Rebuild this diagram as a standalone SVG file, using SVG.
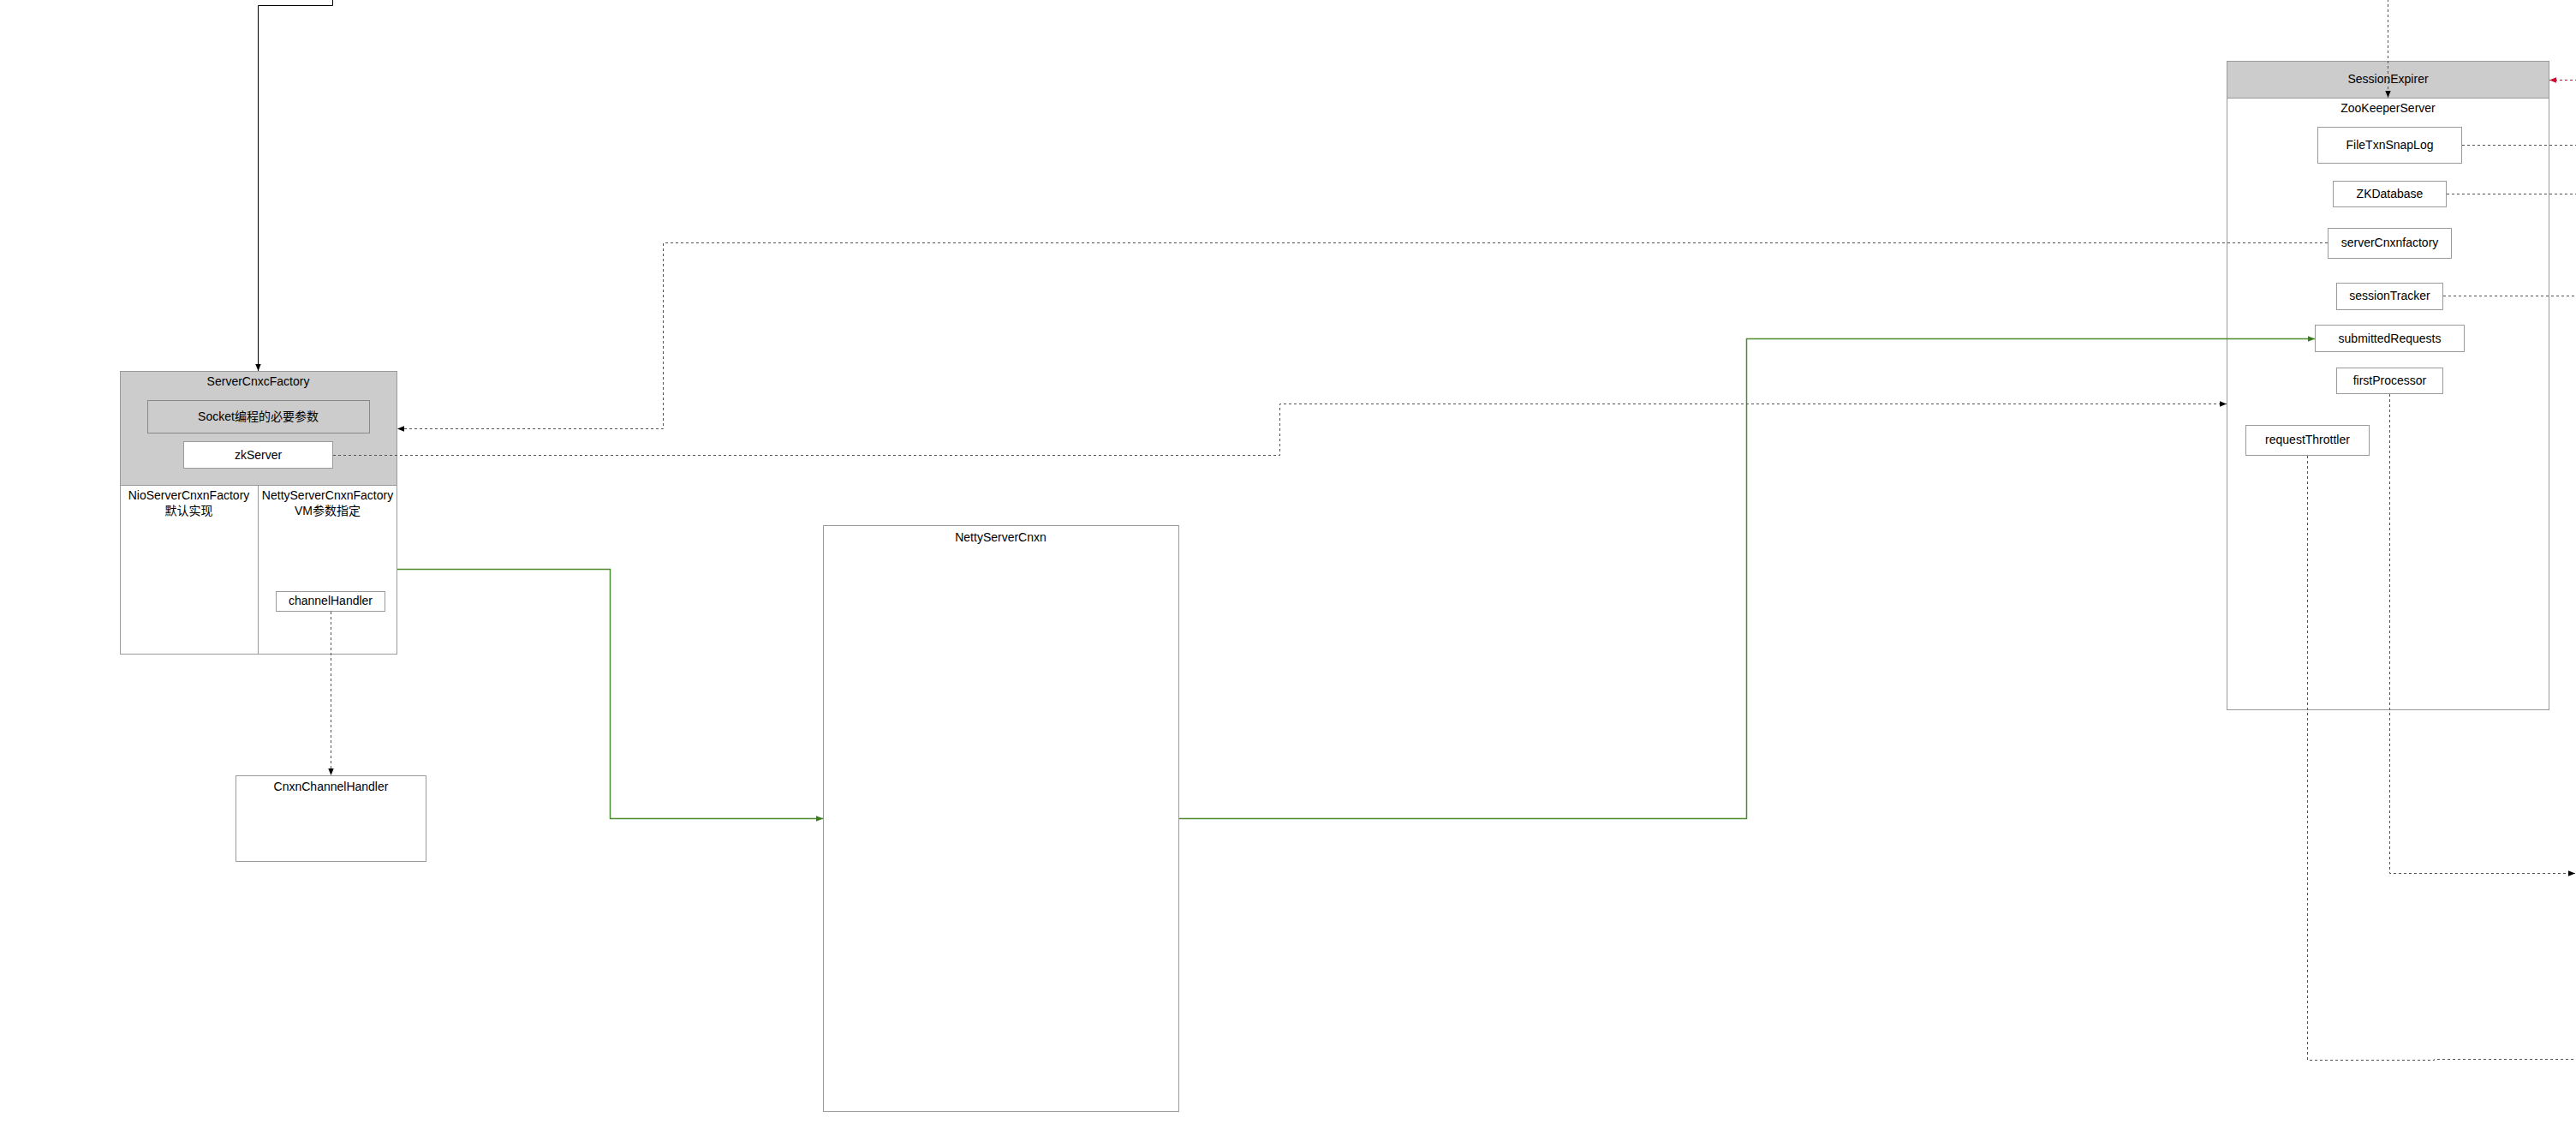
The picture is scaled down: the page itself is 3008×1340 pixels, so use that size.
<svg xmlns="http://www.w3.org/2000/svg" width="3008" height="1340" viewBox="0 0 3008 1340">
<defs>
<style>
text{font-family:"Liberation Sans","Noto Sans CJK SC",sans-serif;font-size:14px;fill:#000;text-anchor:middle}
.box{fill:#fff;stroke:#9a9a9a;stroke-width:1}
.hdr{fill:#cccccc;stroke:#9a9a9a;stroke-width:1}
.inner{fill:#cccccc;stroke:#888;stroke-width:1}
.solid{fill:none;stroke:#000;stroke-width:1}
.dash{fill:none;stroke:#555;stroke-width:1;stroke-dasharray:3 3}
.green{fill:none;stroke:#4f8a2f;stroke-width:1.5}
.red{fill:none;stroke:#c8102e;stroke-width:1;stroke-dasharray:3 3}
</style>
<marker id="ab" viewBox="0 0 10 10" refX="10" refY="5" markerWidth="8" markerHeight="8" markerUnits="userSpaceOnUse" orient="auto"><path d="M0,1 L10,5 L0,9 Z" fill="#000"/></marker>
<marker id="ag" viewBox="0 0 10 10" refX="10" refY="5" markerWidth="8" markerHeight="8" markerUnits="userSpaceOnUse" orient="auto"><path d="M0,1 L10,5 L0,9 Z" fill="#3a7a1a"/></marker>
<marker id="ar" viewBox="0 0 10 10" refX="10" refY="5" markerWidth="8" markerHeight="8" markerUnits="userSpaceOnUse" orient="auto"><path d="M0,1 L10,5 L0,9 Z" fill="#c8102e"/></marker>
</defs>
<rect width="3008" height="1340" fill="#fff"/>

<g id="serverCnxcFactory">
<rect class="box" x="140.5" y="433.5" width="323" height="330"/>
<rect class="hdr" x="140.5" y="433.5" width="323" height="133"/>
<text x="301.5" y="450">ServerCnxcFactory</text>
<rect class="inner" x="172.5" y="467.5" width="259" height="38"/>
<text x="301.5" y="491">Socket编程的必要参数</text>
<rect class="box" x="214.5" y="515.5" width="174" height="31"/>
<text x="301.5" y="536">zkServer</text>
<line x1="301.5" y1="566.5" x2="301.5" y2="763.5" stroke="#9a9a9a"/>
<text x="220.5" y="583">NioServerCnxnFactory</text>
<text x="220.5" y="601">默认实现</text>
<text x="382.5" y="583">NettyServerCnxnFactory</text>
<text x="382.5" y="601">VM参数指定</text>
<rect class="box" x="322.5" y="690.5" width="127" height="23"/>
<text x="386" y="706">channelHandler</text>
</g>

<g id="cnxnChannelHandler">
<rect class="box" x="275.5" y="905.5" width="222" height="100"/>
<text x="386.5" y="923">CnxnChannelHandler</text>
</g>

<g id="nettyServerCnxn">
<rect class="box" x="961.5" y="613.5" width="415" height="684"/>
<text x="1168.5" y="632">NettyServerCnxn</text>
</g>

<g id="zooKeeperServer">
<rect class="box" x="2600.5" y="71.5" width="376" height="757"/>
<rect class="hdr" x="2600.5" y="71.5" width="376" height="43"/>
<text x="2788.5" y="97">SessionExpirer</text>
<text x="2788.5" y="131">ZooKeeperServer</text>
<rect class="box" x="2706.5" y="148.5" width="168" height="42"/>
<text x="2790.5" y="174">FileTxnSnapLog</text>
<rect class="box" x="2724.5" y="211.5" width="132" height="30"/>
<text x="2790.5" y="231">ZKDatabase</text>
<rect class="box" x="2718.5" y="266.5" width="144" height="35"/>
<text x="2790.5" y="288">serverCnxnfactory</text>
<rect class="box" x="2728.5" y="330.5" width="124" height="31"/>
<text x="2790.5" y="350">sessionTracker</text>
<rect class="box" x="2703.5" y="379.5" width="174" height="31"/>
<text x="2790.5" y="400">submittedRequests</text>
<rect class="box" x="2728.5" y="429.5" width="124" height="30"/>
<text x="2790.5" y="449">firstProcessor</text>
<rect class="box" x="2622.5" y="496.5" width="144" height="35"/>
<text x="2694.5" y="518">requestThrottler</text>
</g>

<g id="connectors">
<path class="solid" d="M388.5,-1 V6.5 H301.5 V433" marker-end="url(#ab)"/>
<path class="dash" d="M386.5,714 V905" marker-end="url(#ab)"/>
<path class="green" d="M464,664.5 H712.5 V955.5 H961" marker-end="url(#ag)"/>
<path class="green" d="M1377,955.5 H2039.5 V395.5 H2703" marker-end="url(#ag)"/>
<path class="dash" d="M2718,283.5 H774.5 V500.5 H464" marker-end="url(#ab)"/>
<path class="dash" d="M389,531.5 H1494.5 V471.5 H2600" marker-end="url(#ab)"/>
<path class="dash" d="M2875,169.5 H3010"/>
<path class="dash" d="M2857,226.5 H3010"/>
<path class="dash" d="M2853,345.5 H3010"/>
<path class="dash" d="M2790.5,460 V1019.5 H3007" marker-end="url(#ab)"/>
<path class="dash" d="M2694.5,532 V1237.5 H2842.5 V1236.5 H3010"/>
<path class="dash" d="M2788.5,-1 V114" marker-end="url(#ab)"/>
<path class="red" d="M3010,93.5 H2977" marker-end="url(#ar)"/>
</g>
</svg>
